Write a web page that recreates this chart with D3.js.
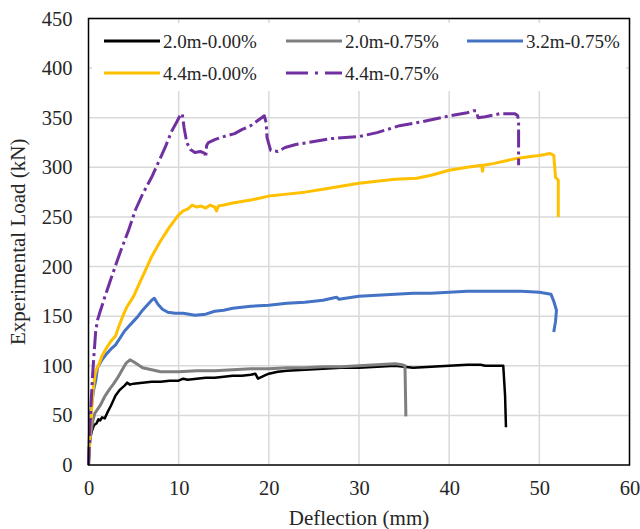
<!DOCTYPE html>
<html>
<head>
<meta charset="utf-8">
<script src="https://cdn.jsdelivr.net/npm/d3@7"></script>
<style>
html,body{margin:0;padding:0;background:#fff;}
svg{display:block;font-family:"Liberation Serif","Times New Roman",serif;}
</style>
</head>
<body>
<svg id="chart" width="640" height="529"></svg>
<script>
// ---- data ----
const xTicks = [0,10,20,30,40,50,60];
const yTicks = [0,50,100,150,200,250,300,350,400,450];
const seriesNames = ["2.0m-0.00%","2.0m-0.75%","3.2m-0.75%","4.4m-0.00%","4.4m-0.75%"];
const seriesColors = ["#000000","#7f7f7f","#4472c4","#ffc000","#7030a0"];

const s1x = [0,0.1,0.2,0.4,0.6,0.9,1.1,1.3,1.5,1.8,2.1,2.5,3.0,3.5,4.0,4.3,4.6,5.0,6,7,8,9,10,10.5,11,12,13,14,15,16,17,18,18.5,18.8,19.5,20,21,22,24,26,28,30,32,34,35,36,38,40,42,43.5,44,45,46,46.2,46.3];
const s1y = [0,15,28,35,40,42,46,45,48,47,53,60,70,76,80,83,81,82,83,84,84,85,85,87,86,87,88,88,89,90,90,91,92,87,90,92,94,95,96,97,98,98,99,100,99,98,99,100,101,101,100,100,100,70,38];

const s2x = [0,0.1,0.3,0.5,0.7,1.0,1.3,1.8,2.3,2.8,3.3,3.8,4.2,4.6,5.0,5.5,6,7,8,9,10,12,14,16,18,20,22,24,26,28,30,32,34,34.8,35.1,35.2];
const s2y = [0,20,35,45,52,56,60,69,76,82,89,97,103,106,104,101,98,96,94,94,94,95,95,96,97,97,98,98,99,99,100,101,102,101,100,49];

const s3x = [0,0.1,0.2,0.4,0.6,0.8,1.0,1.5,2.0,2.5,3.0,3.5,4.0,4.5,5.0,5.5,6.0,6.5,7.0,7.3,7.7,8.2,8.8,9.6,10.5,11.8,13,14,15,16,18,20,22,24,26,27.5,27.8,28.5,30,32,34,36,38,40,42,44,46,48,50,51.3,51.6,51.9,51.8,51.6];
const s3y = [0,30,50,65,77,85,98,106,112,117,121,128,135,140,145,150,156,161,166,168,162,157,154,153,153,151,152,155,156,158,160,161,163,164,166,169,167,168,170,171,172,173,173,174,175,175,175,175,174,172,165,156,145,134];

const s4x = [0,0.1,0.3,0.5,0.7,0.9,1.1,1.5,2.0,2.5,3.0,3.3,3.8,4.3,5.0,5.5,6,6.5,7,7.5,8,8.5,9,9.5,10,10.5,11,11.5,12,12.5,13,13.5,14,14.2,14.4,15,16,18,20,22,24,26,28,30,32,34,36.4,38,40,42,43.6,43.7,43.8,45,47.5,49,50,51.2,51.6,51.8,52.1,52.1];
const s4y = [0,20,50,75,90,97,100,110,118,125,130,138,150,160,170,180,190,200,210,218,226,233,240,246,252,256,258,262,260,261,259,262,260,256,261,262,264,267,271,273,275,278,281,284,286,288,289,292,297,300,302,296,302,304,309,311,312,314,312,290,287,250];

const s5x = [0,0.15,0.3,0.45,0.6,0.8,1.0,1.3,1.8,2.5,3.5,4.5,5.2,6.0,7.0,7.7,8.5,9.2,9.8,10.2,10.4,10.6,10.9,11.3,11.8,12.4,12.9,13.0,13.1,13.3,14,15,16.2,17,18,19.2,19.5,19.7,19.8,20.2,21,21.8,23,25,27,30,32,34.5,37,40.1,42,42.7,43.0,43.2,44,45.6,47.3,47.6,47.7,47.7];
const s5y = [0,35,65,90,110,135,146,155,169,188,214,238,257,273,290,304,320,336,346,353,354,340,325,318,315,316,314,310,322,325,328,331,334,338,342,350,352,345,330,317,316,320,323,326,329,331,335,342,346,352,355,357,357,350,351,354,354,352,345,302];

const seriesX = [s1x,s2x,s3x,s4x,s5x];
const seriesY = [s1y,s2y,s3y,s4y,s5y];

// ---- layout ----
const svg = d3.select("#chart");
const L = 88.5, R = 629.5, T = 18.5, B = 465;
const x = d3.scaleLinear().domain([0,60]).range([L,R]);
const y = d3.scaleLinear().domain([0,450]).range([B,T]);

// gridlines
svg.append("g").selectAll("line.h").data(yTicks.filter(d=>d>0)).join("line")
  .attr("x1",L).attr("x2",R).attr("y1",d=>y(d)).attr("y2",d=>y(d))
  .attr("stroke","#d9d9d9").attr("stroke-width",1.5);
svg.append("g").selectAll("line.v").data(xTicks.filter(d=>d>0)).join("line")
  .attr("y1",T).attr("y2",B).attr("x1",d=>x(d)).attr("x2",d=>x(d))
  .attr("stroke","#d9d9d9").attr("stroke-width",1.5);

// axes (labels only)
const xAxis = svg.append("g").attr("transform",`translate(0,${B})`)
  .call(d3.axisBottom(x).tickValues(xTicks).tickSize(0).tickPadding(15));
const yAxis = svg.append("g").attr("transform",`translate(${L},0)`)
  .call(d3.axisLeft(y).tickValues(yTicks).tickSize(0).tickPadding(16));
[xAxis,yAxis].forEach(a=>{
  a.select(".domain").remove();
  a.selectAll("text").attr("font-family","Liberation Serif, serif").attr("font-size",20.5).attr("fill","#262626");
});

// lines
const line = d3.line().x(d=>x(d[0])).y(d=>y(d[1]));
seriesNames.forEach((n,i)=>{
  const pts = seriesX[i].map((v,j)=>[v,seriesY[i][j]]);
  const p = svg.append("path").datum(pts).attr("d",line)
    .attr("fill","none").attr("stroke",seriesColors[i])
    .attr("stroke-width", i===0?2.5:3).attr("stroke-linejoin","round").attr("stroke-linecap","butt");
  if(i===4) p.attr("stroke-dasharray","18,4,3,4");
});

// frame
svg.append("rect").attr("x",L).attr("y",T).attr("width",R-L).attr("height",B-T)
  .attr("fill","none").attr("stroke","#000").attr("stroke-width",1.5);

// legend
const lg = svg.append("g");
lg.append("rect").attr("x",92).attr("y",23).attr("width",534).attr("height",68).attr("fill","#fff");
const legPos = [[104,41],[286,41],[467,41],[104,73],[286,73]];
seriesNames.forEach((n,i)=>{
  const [lx,ly] = legPos[i];
  const l = lg.append("line").attr("x1",lx).attr("x2",lx+56).attr("y1",ly).attr("y2",ly)
    .attr("stroke",seriesColors[i]).attr("stroke-width",3);
  if(i===4) l.attr("stroke-dasharray","22,7,3,7");
  lg.append("text").attr("x",lx+59).attr("y",ly+6.5).text(n)
    .attr("font-size",19).attr("fill","#262626");
});

// axis titles
svg.append("text").attr("x",(L+R)/2).attr("y",525).attr("text-anchor","middle")
  .attr("font-size",21).attr("fill","#262626").text("Deflection (mm)");
svg.append("text").attr("transform",`translate(25,${(T+B)/2}) rotate(-90)`).attr("text-anchor","middle")
  .attr("font-size",21).attr("fill","#262626").text("Experimental Load (kN)");
</script>
</body>
</html>
